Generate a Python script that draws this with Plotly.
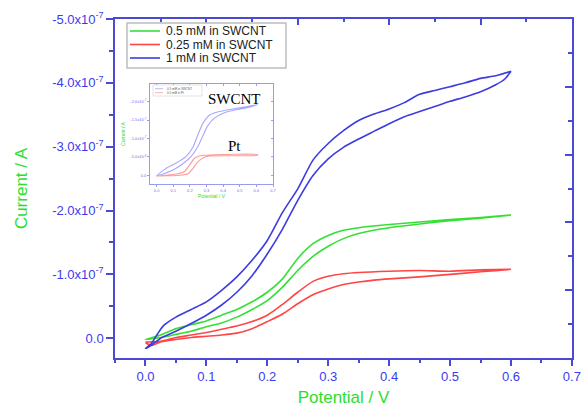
import plotly.graph_objects as go

# ---------------- data (current in units of 1e-7 A; negative = cathodic axis up) ----------------
SCALE = 1e-7

# 1 mM in SWCNT (blue)
blue_v_fwd = [0, 0.01, 0.02, 0.03, 0.05, 0.075, 0.1, 0.125, 0.15, 0.175, 0.2, 0.225, 0.25, 0.275,
              0.3, 0.325, 0.35, 0.375, 0.4, 0.425, 0.45, 0.475, 0.5, 0.525, 0.55, 0.575, 0.6]
blue_i_fwd = [0.16, 0.08, -0.07, -0.20, -0.33, -0.45, -0.57, -0.75, -0.96, -1.22, -1.53, -1.97, -2.34, -2.79,
              -3.05, -3.25, -3.41, -3.51, -3.59, -3.69, -3.82, -3.88, -3.94, -4.00, -4.07, -4.11, -4.18]
blue_v_rev = [0.6, 0.59, 0.575, 0.55, 0.525, 0.5, 0.475, 0.45, 0.425, 0.4, 0.375, 0.35, 0.325, 0.3,
              0.275, 0.25, 0.225, 0.2, 0.175, 0.15, 0.125, 0.1, 0.075, 0.05, 0.025, 0.01, 0.0]
blue_i_rev = [-4.18, -4.06, -3.97, -3.86, -3.78, -3.71, -3.63, -3.55, -3.47, -3.36, -3.24, -3.12, -2.99, -2.81,
              -2.55, -2.16, -1.71, -1.32, -0.98, -0.72, -0.52, -0.36, -0.23, -0.11, 0.00, 0.11, 0.16]

# 0.5 mM in SWCNT (green)
green_v_fwd = [0, 0.025, 0.05, 0.075, 0.1, 0.125, 0.15, 0.175, 0.2, 0.225, 0.25, 0.275, 0.3, 0.325,
               0.35, 0.4, 0.45, 0.5, 0.55, 0.6]
green_i_fwd = [0.02, -0.05, -0.15, -0.21, -0.27, -0.36, -0.45, -0.57, -0.72, -0.93, -1.25, -1.48, -1.61, -1.69,
               -1.73, -1.78, -1.82, -1.86, -1.89, -1.93]
green_v_rev = [0.6, 0.55, 0.5, 0.45, 0.4, 0.35, 0.325, 0.3, 0.275, 0.25, 0.225, 0.2, 0.175, 0.15,
               0.125, 0.1, 0.075, 0.05, 0.025, 0.0]
green_i_rev = [-1.93, -1.88, -1.84, -1.79, -1.73, -1.64, -1.56, -1.44, -1.28, -1.06, -0.80, -0.59, -0.45, -0.33,
               -0.24, -0.18, -0.11, -0.06, -0.01, 0.02]

# 0.25 mM in SWCNT (red)
red_v_fwd = [0, 0.025, 0.05, 0.075, 0.1, 0.125, 0.15, 0.175, 0.2, 0.225, 0.25, 0.275, 0.3, 0.325,
             0.35, 0.4, 0.45, 0.5, 0.55, 0.6]
red_i_fwd = [0.06, 0.05, -0.01, -0.05, -0.09, -0.14, -0.19, -0.26, -0.36, -0.53, -0.72, -0.89, -0.97, -1.01,
             -1.03, -1.05, -1.06, -1.05, -1.07, -1.08]
red_v_rev = [0.6, 0.55, 0.5, 0.45, 0.4, 0.375, 0.35, 0.325, 0.3, 0.275, 0.25, 0.225, 0.2, 0.175, 0.15,
             0.125, 0.1, 0.075, 0.05, 0.025, 0.01, 0.0]
red_i_rev = [-1.08, -1.04, -1.00, -0.96, -0.93, -0.91, -0.88, -0.84, -0.77, -0.68, -0.54, -0.38, -0.26, -0.15, -0.08,
             -0.05, -0.03, -0.01, 0.02, 0.06, 0.11, 0.07]

# inset: 0.5 mM in SWCNT vs 0.5 mM in Pt
ins_swcnt_v = [0.0, 0.058, 0.118, 0.178, 0.218, 0.248, 0.278, 0.317, 0.377, 0.457, 0.537, 0.607,
               0.537, 0.457, 0.397, 0.347, 0.307, 0.278, 0.248, 0.208, 0.158, 0.098, 0.038, 0.0]
ins_swcnt_i = [0.02, -0.19, -0.33, -0.51, -0.76, -1.10, -1.41, -1.63, -1.73, -1.80, -1.86, -1.92,
               -1.83, -1.76, -1.68, -1.55, -1.34, -1.07, -0.78, -0.51, -0.31, -0.14, -0.03, 0.02]
ins_pt_v = [0.0, 0.118, 0.168, 0.198, 0.228, 0.257, 0.317, 0.607,
            0.607, 0.317, 0.278, 0.248, 0.218, 0.188, 0.138, 0.0]
ins_pt_i = [0.02, -0.03, -0.10, -0.28, -0.46, -0.52, -0.55, -0.56,
            -0.54, -0.52, -0.47, -0.36, -0.18, -0.04, 0.00, 0.02]

x_ticks = [0.0, 0.1, 0.2, 0.3, 0.4, 0.5, 0.6, 0.7]
x_ticktext = ["0.0", "0.1", "0.2", "0.3", "0.4", "0.5", "0.6", "0.7"]
y_ticks = [0, -1, -2, -3, -4, -5]
y_ticktext = ["0.0", "-1.0x10<sup>-7</sup>", "-2.0x10<sup>-7</sup>", "-3.0x10<sup>-7</sup>",
              "-4.0x10<sup>-7</sup>", "-5.0x10<sup>-7</sup>"]
ins_y_ticks = [0, -0.5, -1.0, -1.5, -2.0, -2.5]
ins_y_ticktext = ["0.0", "-5.0x10<sup>-8</sup>", "-1.0x10<sup>-7</sup>", "-1.5x10<sup>-7</sup>",
                  "-2.0x10<sup>-7</sup>", "-2.5x10<sup>-7</sup>"]

legend_labels = ["0.5 mM in SWCNT", "0.25 mM in SWCNT", "1 mM in SWCNT"]
inset_legend_labels = ["0.5 mM in SWCNT", "0.5 mM in Pt"]

# ---------------- styling ----------------
GREEN = "#35e035"
RED = "#ff4545"
BLUE = "#3c3ce0"
AXIS = "#4a4ad6"
TICKFONT = "#3b3bee"
TITLEGREEN = "#2edd2e"
INS_BLUE = "#a8a8ff"
INS_RED = "#ff9c9c"
INS_AXIS = "#9a9aee"
FONT = "Liberation Sans, Arial, sans-serif"

W, H = 581, 407
L, R, T, B = 115, 9, 19, 49


def px_x(px):
    return (px - L) / (W - L - R)


def px_y(py):
    return (H - B - py) / (H - T - B)


def loop(vf, i_f, vr, i_r):
    return list(vf) + list(vr), [v * SCALE for v in list(i_f) + list(i_r)]


fig = go.Figure()

for (vf, i_f, vr, i_r), col, name in [
    ((green_v_fwd, green_i_fwd, green_v_rev, green_i_rev), GREEN, legend_labels[0]),
    ((red_v_fwd, red_i_fwd, red_v_rev, red_i_rev), RED, legend_labels[1]),
    ((blue_v_fwd, blue_i_fwd, blue_v_rev, blue_i_rev), BLUE, legend_labels[2]),
]:
    xs, ys = loop(vf, i_f, vr, i_r)
    fig.add_trace(go.Scatter(x=xs, y=ys, mode="lines", name=name, showlegend=False,
                             line=dict(color=col, width=1.6, shape="spline", smoothing=0.6)))

# inset traces
fig.add_trace(go.Scatter(x=ins_swcnt_v, y=[v * SCALE for v in ins_swcnt_i], mode="lines",
                         xaxis="x3", yaxis="y3", showlegend=False, name=inset_legend_labels[0],
                         line=dict(color=INS_BLUE, width=1.1, shape="spline", smoothing=0.6)))
fig.add_trace(go.Scatter(x=ins_pt_v, y=[v * SCALE for v in ins_pt_i], mode="lines",
                         xaxis="x3", yaxis="y3", showlegend=False, name=inset_legend_labels[1],
                         line=dict(color=INS_RED, width=1.1, shape="spline", smoothing=0.6)))

# dummy traces so the mirror axes render
fig.add_trace(go.Scatter(x=[None], y=[None], xaxis="x2", yaxis="y2", showlegend=False, hoverinfo="skip"))
fig.add_trace(go.Scatter(x=[None], y=[None], xaxis="x4", yaxis="y4", showlegend=False, hoverinfo="skip"))

common_axis = dict(showgrid=False, zeroline=False, showline=True, automargin=False)

fig.update_layout(
    width=W, height=H,
    margin=dict(l=L, r=R, t=T, b=B, autoexpand=False),
    paper_bgcolor="white", plot_bgcolor="white",
    showlegend=False,
    xaxis=dict(**common_axis, range=[-0.05, 0.7002], tickvals=x_ticks, ticktext=x_ticktext,
               linecolor=AXIS, linewidth=1.5, ticks="outside", ticklen=6, tickwidth=1.5, tickcolor=AXIS,
               minor=dict(dtick=0.05, tick0=0, ticklen=3, tickwidth=1.5, tickcolor=AXIS, ticks="outside"),
               tickfont=dict(family=FONT, size=13, color=TICKFONT),
               title=dict(text="Potential / V", standoff=14,
                          font=dict(family=FONT, size=17, color=TITLEGREEN))),
    yaxis=dict(**common_axis, range=[0.31 * SCALE, -5.0 * SCALE],
               tickvals=[v * SCALE for v in y_ticks], ticktext=y_ticktext,
               linecolor=AXIS, linewidth=1.5, ticks="outside", ticklen=7, tickwidth=1.5, tickcolor=AXIS,
               minor=dict(tickvals=[v * SCALE for v in [-0.5, -1.5, -2.5, -3.5, -4.5]],
                          ticklen=4, tickwidth=1.5, tickcolor=AXIS, ticks="outside"),
               tickfont=dict(family=FONT, size=13, color=TICKFONT),
               title=dict(text="Current / A", standoff=20,
                          font=dict(family=FONT, size=17, color=TITLEGREEN))),
    xaxis2=dict(**common_axis, overlaying="x", side="top", anchor="y", range=[0, 5], dtick=1,
                linecolor=AXIS, linewidth=1.5, ticks="inside", ticklen=6, tickwidth=1.5, tickcolor=AXIS,
                minor=dict(dtick=0.5, ticklen=3, tickwidth=1.5, tickcolor=AXIS, ticks="inside"),
                showticklabels=False),
    yaxis2=dict(**common_axis, overlaying="y", side="right", anchor="x", range=[0, 5], dtick=1,
                linecolor=AXIS, linewidth=1.5, ticks="inside", ticklen=7, tickwidth=1.5, tickcolor=AXIS,
                minor=dict(dtick=0.5, ticklen=4, tickwidth=1.5, tickcolor=AXIS, ticks="inside"),
                showticklabels=False),
    xaxis3=dict(**common_axis, domain=[px_x(150), px_x(273)], anchor="y3", range=[-0.04, 0.7],
                tickvals=x_ticks, ticktext=x_ticktext,
                linecolor=INS_AXIS, linewidth=0.8, ticks="outside", ticklen=2, tickwidth=0.8, tickcolor=INS_AXIS,
                tickfont=dict(family=FONT, size=4, color="#6f6ff0"),
                title=dict(text="Potential / V", standoff=2, font=dict(family=FONT, size=5, color=TITLEGREEN))),
    yaxis3=dict(**common_axis, domain=[px_y(184), px_y(84)], anchor="x3", range=[0.24 * SCALE, -2.48 * SCALE],
                tickvals=[v * SCALE for v in ins_y_ticks], ticktext=ins_y_ticktext,
                linecolor=INS_AXIS, linewidth=0.8, ticks="outside", ticklen=2, tickwidth=0.8, tickcolor=INS_AXIS,
                tickfont=dict(family=FONT, size=4, color="#6f6ff0"),
                title=dict(text="Current / A", standoff=4, font=dict(family=FONT, size=5, color=TITLEGREEN))),
    xaxis4=dict(**common_axis, overlaying="x3", side="top", anchor="y3", range=[-0.04, 0.7],
                tickvals=x_ticks, linecolor=INS_AXIS, linewidth=0.8, ticks="inside", ticklen=2,
                tickwidth=0.8, tickcolor=INS_AXIS, showticklabels=False),
    yaxis4=dict(**common_axis, overlaying="y3", side="right", anchor="x3", range=[0.24 * SCALE, -2.48 * SCALE],
                tickvals=[v * SCALE for v in ins_y_ticks], linecolor=INS_AXIS, linewidth=0.8, ticks="inside",
                ticklen=2, tickwidth=0.8, tickcolor=INS_AXIS, showticklabels=False),
)

annotations = [
    dict(text="SWCNT", x=0.467, y=-2.07 * SCALE, xref="x3", yref="y3", showarrow=False,
         font=dict(family="Liberation Serif, Times New Roman, serif", size=15, color="black")),
    dict(text="Pt", x=0.467, y=-0.80 * SCALE, xref="x3", yref="y3", showarrow=False,
         font=dict(family="Liberation Serif, Times New Roman, serif", size=15, color="black")),
]

shapes = []
# main legend
shapes.append(dict(type="rect", xref="paper", yref="paper", x0=px_x(127), x1=px_x(286), y0=px_y(68), y1=px_y(23),
                   line=dict(color="#bdbdbd", width=1.5), fillcolor="white", layer="above"))
for row_y, col, lab in zip([31, 44.5, 58], [GREEN, RED, BLUE], legend_labels):
    shapes.append(dict(type="line", xref="paper", yref="paper", x0=px_x(130), x1=px_x(160),
                       y0=px_y(row_y), y1=px_y(row_y), line=dict(color=col, width=1.6)))
    annotations.append(dict(text=lab, x=px_x(164), y=px_y(row_y), xref="paper", yref="paper",
                            xanchor="left", yanchor="middle", showarrow=False,
                            font=dict(family=FONT, size=12, color="#222222")))
# inset legend
shapes.append(dict(type="rect", xref="paper", yref="paper", x0=px_x(153), x1=px_x(202), y0=px_y(96), y1=px_y(85),
                   line=dict(color="#d0d0d0", width=0.6), fillcolor="white", layer="above"))
for row_y, col, lab in zip([88.7, 92.7], [INS_BLUE, INS_RED], inset_legend_labels):
    shapes.append(dict(type="line", xref="paper", yref="paper", x0=px_x(155), x1=px_x(163),
                       y0=px_y(row_y), y1=px_y(row_y), line=dict(color=col, width=0.8)))
    annotations.append(dict(text=lab, x=px_x(164.5), y=px_y(row_y), xref="paper", yref="paper",
                            xanchor="left", yanchor="middle", showarrow=False,
                            font=dict(family=FONT, size=3, color="#555555")))

fig.update_layout(annotations=annotations, shapes=shapes)

# remove the default 8px page margin so the figure sits at the window's top-left corner
fig.write_html("out.html", config={"displayModeBar": False},
               post_script="document.body.style.margin='0';document.body.style.padding='0';")
